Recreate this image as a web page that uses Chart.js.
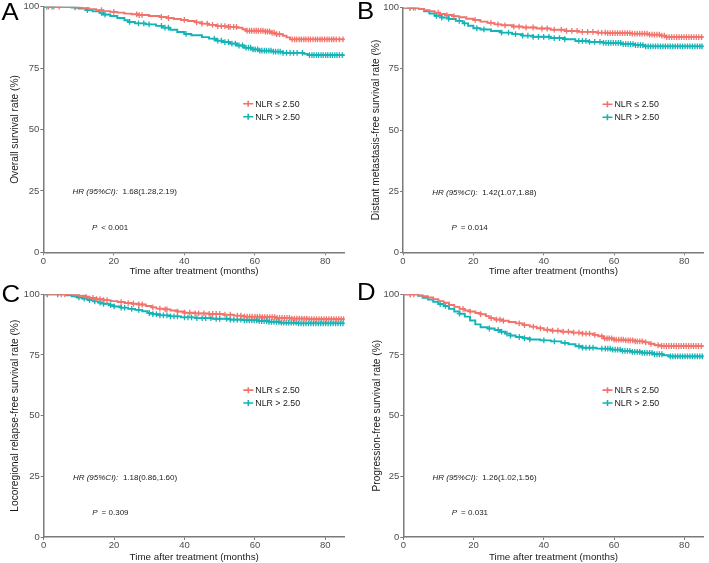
<!DOCTYPE html>
<html>
<head>
<meta charset="utf-8">
<script src="https://cdn.jsdelivr.net/npm/chart.js@4.4.1/dist/chart.umd.min.js"></script>
<style>
  html, body { margin: 0; padding: 0; background: #fff; overflow: hidden; width: 709px; height: 563px; }
  canvas { position: absolute; }
</style>
</head>
<body>
<script>
// axes
var monthTicks = [0, 20, 40, 60, 80];
var rateTicks = [0, 25, 50, 75, 100];
var groupNames = ['NLR \u2264 2.50', 'NLR > 2.50'];
var panelLetters = ['A', 'B', 'C', 'D'];
var yTitles = ['Overall survival rate (%)', 'Distant metastasis-free survival rate (%)',
  'Locoregional relapse-free survival rate (%)', 'Progression-free survival rate (%)'];
var hrValues = ['1.68(1.28,2.19)', '1.42(1.07,1.88)', '1.18(0.86,1.60)', '1.26(1.02,1.56)'];
var pValues = ['< 0.001', '= 0.014', '= 0.309', '= 0.031'];

// A - overall survival
var osLowTime = [0, 9, 11, 13, 15, 17, 19, 21, 23, 25, 27, 30, 33, 35, 37, 39, 41, 43, 45, 47, 49, 52, 55, 56.5, 57.5, 63, 64.5, 66, 68, 69, 70, 85.5];
var osLowRate = [100, 99.7, 99.4, 99, 98.6, 98.2, 97.9, 97.6, 97.2, 96.9, 96.6, 96.2, 95.8, 95.4, 95, 94.6, 94.2, 93.6, 93.1, 92.6, 92.1, 91.8, 91.4, 90.8, 90.2, 89.9, 89.4, 88.8, 88.2, 87.5, 86.7, 86.7];
var osLowCensor = [1.5, 3, 4.5, 16.5, 20, 26.5, 27.2, 28, 33.5, 35.5, 40, 43.5, 45, 46.5, 48, 49.5, 50.5, 51.5, 52.5, 53, 54, 54.8, 57.8, 58.5, 59.1, 59.8, 60.4, 61, 61.7, 62.3, 63, 63.6, 64.2, 64.9, 65.5, 66.2, 67, 70.6, 71.3, 71.9, 72.6, 73.2, 73.9, 74.5, 75.2, 75.8, 76.5, 77.2, 77.8, 78.5, 79.1, 79.8, 80.5, 81.1, 81.8, 82.4, 83.1, 84, 85];
var osHighTime = [0, 8, 10, 12, 14, 16, 17, 19, 21, 23, 24, 26, 29, 32, 34, 36, 38, 40, 42, 45, 47, 49, 51, 53, 55, 57, 59, 61, 65, 68, 74, 75, 85.5];
var osHighRate = [100, 99.7, 99.2, 98.6, 98.1, 97.5, 96.8, 96.2, 95.4, 94.5, 93.8, 93.2, 92.8, 92.2, 91.5, 90.6, 89.7, 88.9, 88.4, 87.6, 87, 86.2, 85.6, 85, 84.2, 83.3, 82.6, 82.1, 81.7, 81.2, 80.8, 80.3, 80.3];
var osHighCensor = [1, 2.5, 9, 12.5, 16.5, 17.5, 24.5, 27, 28.5, 30, 33.5, 34.5, 35.5, 40.5, 48.5, 49.5, 50.5, 51.5, 52.5, 53.5, 54.5, 55.5, 56.5, 57.5, 58.2, 58.8, 59.5, 60.1, 60.8, 61.4, 62, 62.7, 63.3, 64, 64.6, 65.3, 65.9, 66.6, 67.2, 68, 69, 70, 71, 72, 73.5, 75.5, 76.2, 76.8, 77.5, 78.1, 78.8, 79.4, 80.1, 80.7, 81.4, 82, 82.7, 83.3, 84, 84.8];

// B - distant metastasis-free survival
var dmLowTime = [0, 4.5, 6, 7.5, 9, 10.5, 12, 14, 16, 18, 20, 22, 24, 26, 28, 31, 34, 38, 42, 46, 50, 55, 58, 65, 70, 73, 74.5, 85.5];
var dmLowRate = [100, 99.6, 99, 98.6, 98, 97.4, 97, 96.5, 96.1, 95.5, 95, 94.3, 93.8, 93.2, 92.8, 92.3, 91.9, 91.5, 91, 90.5, 90.1, 89.8, 89.6, 89.4, 89, 88.6, 88, 88];
var dmLowCensor = [2, 3.5, 10, 12.5, 14.5, 20.5, 25, 27, 29, 31.5, 33, 35, 37, 39.5, 41, 43, 45, 46.5, 48, 49.5, 51, 52.5, 54, 55.5, 56.5, 57.5, 58.2, 58.9, 59.6, 60.3, 61, 61.7, 62.4, 63.1, 63.8, 64.5, 65.2, 65.9, 66.6, 67.3, 68, 68.7, 69.4, 70.1, 70.8, 71.5, 72.2, 72.9, 73.6, 74.3, 75, 75.7, 76.4, 77.1, 77.8, 78.5, 79.2, 79.9, 80.6, 81.3, 82, 82.7, 83.4, 84.1, 84.9];
var dmHighTime = [0, 4.5, 6, 7.5, 9, 11, 13, 15, 17, 18.5, 20, 22, 25, 28, 31, 34, 37, 42, 46, 49, 53, 57, 62, 66, 68.5, 85.5];
var dmHighRate = [100, 99.5, 98.5, 97.6, 96.7, 96, 95.4, 94.6, 93.6, 92.6, 91.6, 91.1, 90.5, 89.8, 89.2, 88.6, 88.1, 87.6, 87.1, 86.4, 86, 85.6, 85.1, 84.7, 84.2, 84.2];
var dmHighCensor = [2, 3, 9.5, 11, 13, 16, 17.5, 21, 23, 28, 30, 32, 34, 35.5, 37, 38.5, 40, 41.5, 43, 44.5, 46, 50, 51, 52, 53, 54.5, 56, 57, 57.7, 58.4, 59.1, 59.8, 60.5, 61.2, 61.9, 62.6, 63.3, 64, 64.7, 65.4, 66.1, 66.8, 67.5, 68.2, 69, 69.7, 70.4, 71.1, 71.8, 72.5, 73.2, 73.9, 74.6, 75.3, 76, 76.7, 77.4, 78.1, 78.8, 79.5, 80.2, 80.9, 81.6, 82.3, 83, 83.7, 84.4, 85];

// C - locoregional relapse-free survival
var lrLowTime = [0, 8.5, 10, 12, 13, 15, 17, 19, 21, 23, 25, 27, 29, 30.5, 32, 34, 36, 38, 40, 43, 47, 51, 54, 57, 62, 66, 70, 75, 85.5];
var lrLowRate = [100, 99.7, 99.4, 99, 98.5, 98, 97.6, 97.2, 96.8, 96.4, 96.1, 95.8, 95.2, 94.6, 94.1, 93.8, 93.3, 92.9, 92.4, 92.1, 91.9, 91.6, 91.2, 90.8, 90.6, 90.3, 90, 89.8, 89.8];
var lrLowCensor = [5, 6, 9, 12, 14, 15, 16, 17, 18, 22, 24, 25.5, 27, 28, 31, 33, 34.5, 35, 38, 40, 41.5, 43, 44, 45.5, 47, 48, 49, 50, 51.5, 53, 55, 56, 57, 57.8, 58.5, 59.2, 60, 60.7, 61.4, 62.1, 62.8, 63.5, 64.2, 64.9, 65.6, 66.3, 67, 67.7, 68.4, 69.1, 69.8, 70.5, 71.2, 71.9, 72.6, 73.3, 74, 74.7, 75.4, 76.1, 76.8, 77.5, 78.2, 78.9, 79.6, 80.3, 81, 81.7, 82.4, 83.1, 83.8, 84.5, 85.2];
var lrHighTime = [0, 6.5, 8, 9.5, 11, 12.5, 14, 15.5, 17, 18.5, 20, 22, 24, 26, 28, 29.5, 31, 33, 36, 39, 43, 48, 53, 57, 61, 64, 67, 72, 85.5];
var lrHighRate = [100, 99.6, 99.2, 98.7, 98.2, 97.6, 97.1, 96.6, 96.1, 95.5, 95, 94.5, 94, 93.6, 93, 92.3, 91.8, 91.3, 90.9, 90.5, 90.2, 89.9, 89.6, 89.3, 89, 88.7, 88.3, 88, 88];
var lrHighCensor = [1, 4, 10, 11.5, 13, 14.5, 16, 17, 19, 20, 22, 23, 25, 27, 30, 31, 32, 33, 34, 35, 36, 37, 38, 40, 41, 42, 43.5, 45, 46, 47.5, 49, 50, 52, 53, 54, 55, 56, 57, 57.7, 58.4, 59.1, 59.8, 60.5, 61.2, 61.9, 62.6, 63.3, 64, 64.7, 65.4, 66.1, 66.8, 67.5, 68.2, 68.9, 69.6, 70.3, 71, 71.7, 72.4, 73.1, 73.8, 74.5, 75.2, 75.9, 76.6, 77.3, 78, 78.7, 79.4, 80.1, 80.8, 81.5, 82.2, 82.9, 83.6, 84.3, 85];

// D - progression-free survival
var pfLowTime = [0, 4.2, 5.5, 7, 8.5, 10, 11.5, 13, 14.5, 16, 17.5, 19, 20.5, 22, 23.5, 24.5, 26, 28, 30, 32, 34, 36, 38, 40, 42, 45, 48, 51, 54, 55.5, 57, 60, 63, 66, 68.5, 70, 71.5, 73, 85.5];
var pfLowRate = [100, 99.6, 99.2, 98.7, 98, 97.2, 96.5, 95.6, 94.8, 94, 93.3, 92.9, 92.3, 91.8, 91, 90.2, 89.6, 89.1, 88.6, 88, 87.3, 86.7, 86, 85.4, 85, 84.6, 84.2, 83.8, 83.3, 82.7, 81.8, 81.3, 81, 80.6, 80.2, 79.6, 79, 78.7, 78.7];
var pfLowCensor = [2, 3, 17, 19, 22, 25, 26.5, 27.5, 28.5, 33, 34.5, 37, 39, 41, 42.5, 44, 45.5, 47, 48.5, 50, 51, 52, 53, 54.5, 56.5, 57.3, 58, 58.6, 59.3, 60, 60.6, 61.3, 62, 62.6, 63.3, 64, 64.6, 65.3, 66, 66.6, 67.3, 68, 69, 70.5, 72.5, 73.5, 74.2, 74.9, 75.6, 76.3, 77, 77.7, 78.4, 79.1, 79.8, 80.5, 81.2, 81.9, 82.6, 83.3, 84, 84.8];
var pfHighTime = [0, 4.2, 5.5, 7, 8.5, 10, 11.5, 13, 14.5, 16, 17.5, 19, 20.5, 22, 24, 26, 27.5, 29, 30.5, 32, 34, 36, 39, 42, 45, 47, 49, 51, 55, 59, 62, 65, 68, 71, 74, 75.5, 85.5];
var pfHighRate = [100, 99.4, 98.6, 97.8, 96.9, 96, 95.2, 94, 92.9, 92, 90.8, 89.2, 87.6, 86.4, 85.9, 85.3, 84.6, 83.8, 83, 82.4, 81.9, 81.4, 81, 80.6, 80, 79.4, 78.6, 78, 77.6, 77.2, 76.7, 76.3, 75.9, 75.3, 74.9, 74.4, 74.4];
var pfHighCensor = [2, 10.5, 12, 16, 24.5, 27, 28, 29.5, 30.5, 33, 34.5, 36, 40, 43, 46, 50, 51, 52, 53, 54, 56.5, 57.5, 58.2, 58.9, 59.6, 60.3, 61, 61.7, 62.4, 63.1, 63.8, 64.5, 65.2, 65.9, 66.6, 67.3, 68, 68.7, 69.4, 70.1, 70.8, 71.5, 72.2, 72.9, 73.6, 76, 76.7, 77.4, 78.1, 78.8, 79.5, 80.2, 80.9, 81.6, 82.3, 83, 83.7, 84.4, 85.1];

var curveData = [
  [[osLowTime, osLowRate, osLowCensor], [osHighTime, osHighRate, osHighCensor]],
  [[dmLowTime, dmLowRate, dmLowCensor], [dmHighTime, dmHighRate, dmHighCensor]],
  [[lrLowTime, lrLowRate, lrLowCensor], [lrHighTime, lrHighRate, lrHighCensor]],
  [[pfLowTime, pfLowRate, pfLowCensor], [pfHighTime, pfHighRate, pfHighCensor]]
];

var colors = ['#F2736B', '#14B3B6'];
var fontFam = '"Liberation Sans", Arial, Helvetica, sans-serif';

// page layout: plot box [left, top, right, bottom], y title x, x title y, letter pos
var layout = [
  { plot: [43.3, 6.7, 347.7, 252.3], yTitleX: 15, xTitleY: 271.7, letter: [1.5, 19.5] },
  { plot: [403, 7.7, 707.3, 252.3], yTitleX: 375.7, xTitleY: 271.7, letter: [357, 18.5] },
  { plot: [43.7, 294.3, 347.7, 537], yTitleX: 15, xTitleY: 557, letter: [1.5, 301.5] },
  { plot: [403.3, 294.3, 707.3, 537], yTitleX: 377.5, xTitleY: 557, letter: [357, 300] }
];

Chart.defaults.font.family = fontFam;
Chart.defaults.animation = false;

function stepAt(times, rates, t) {
  var v = rates[0];
  for (var i = 0; i < times.length; i++) {
    if (times[i] <= t) v = rates[i];
  }
  return v;
}

function drawPanel(k) {
  var L = layout[k];
  var pl = L.plot[0], pt = L.plot[1], pr = L.plot[2], pb = L.plot[3];
  var cx = Math.floor(pl - 50), cy = Math.floor(pt - 14);
  var cw = Math.ceil(pr - cx + 1.5), ch = Math.ceil(pb + 30 - cy);
  var yW = pl - cx, padTop = pt - cy, padRight = cx + cw - pr, xH = cy + ch - pb;

  var cv = document.createElement('canvas');
  cv.width = cw; cv.height = ch;
  cv.style.left = cx + 'px'; cv.style.top = cy + 'px';
  cv.style.width = cw + 'px'; cv.style.height = ch + 'px';
  document.body.appendChild(cv);

  var datasets = [];
  for (var g = 0; g < 2; g++) {
    var d = curveData[k][g];
    datasets.push({
      label: groupNames[g],
      data: d[0].map(function (t, i) { return { x: t, y: d[1][i] }; }),
      borderColor: colors[g], borderWidth: 1.9, stepped: 'before',
      pointRadius: 0, fill: false
    });
    datasets.push({
      label: groupNames[g] + ' censored',
      data: d[2].map(function (t) { return { x: t, y: stepAt(d[0], d[1], t) }; }),
      showLine: false, pointStyle: 'cross', pointRadius: 2.9,
      pointBorderColor: colors[g], pointBorderWidth: 1.3, borderColor: colors[g]
    });
  }

  var textPlugin = {
    id: 'kmText',
    afterDraw: function (chart) {
      var ctx = chart.ctx, xs = chart.scales.x, ys = chart.scales.y;
      ctx.save();
      // panel letter
      ctx.fillStyle = '#000';
      ctx.textBaseline = 'alphabetic';
      ctx.textAlign = 'left';
      ctx.font = '23px ' + fontFam;
      ctx.save();
      ctx.translate(L.letter[0] - cx, L.letter[1] - cy);
      ctx.scale(1.12, 1);
      ctx.fillText(panelLetters[k], 0, 0);
      ctx.restore();

      // legend
      var lx = xs.getPixelForValue(56.7);
      var rows = [60.5, 55.2];
      ctx.textBaseline = 'middle';
      for (var g = 0; g < 2; g++) {
        var ly = ys.getPixelForValue(rows[g]);
        ctx.strokeStyle = colors[g];
        ctx.lineWidth = 1.6;
        ctx.beginPath();
        ctx.moveTo(lx, ly); ctx.lineTo(lx + 10, ly);
        ctx.moveTo(lx + 5, ly - 3); ctx.lineTo(lx + 5, ly + 3);
        ctx.stroke();
        ctx.fillStyle = '#1a1a1a';
        ctx.font = '8.8px ' + fontFam;
        ctx.fillText(groupNames[g], lx + 12, ly + 0.5);
      }

      // HR and P
      var hy = ys.getPixelForValue(24.5);
      ctx.fillStyle = '#1a1a1a';
      ctx.font = 'italic 8px ' + fontFam;
      ctx.fillText('HR (95%CI):', xs.getPixelForValue(8.3), hy);
      ctx.font = '8px ' + fontFam;
      ctx.fillText(hrValues[k], xs.getPixelForValue(22.5), hy);

      var py = ys.getPixelForValue(10);
      var px = xs.getPixelForValue(13.8);
      ctx.font = 'italic 8px ' + fontFam;
      ctx.fillText('P', px, py);
      var w = ctx.measureText('P').width;
      ctx.font = '8px ' + fontFam;
      ctx.fillText(pValues[k], px + w + 4, py);
      ctx.restore();
    }
  };

  new Chart(cv, {
    type: 'line',
    data: { datasets: datasets },
    options: {
      responsive: false,
      animation: false,
      layout: { padding: { top: padTop, right: padRight, left: 0, bottom: 0 } },
      plugins: { legend: { display: false }, tooltip: { enabled: false } },
      scales: {
        x: {
          type: 'linear', min: 0, max: 85.5,
          afterBuildTicks: function (s) { s.ticks = monthTicks.map(function (v) { return { value: v }; }); },
          afterFit: function (s) { s.height = xH; },
          border: { color: '#7a7a7a', width: 1.5 },
          grid: { drawOnChartArea: false, tickLength: 3, color: '#7a7a7a' },
          ticks: { font: { size: 9.5 }, color: '#4d4d4d', padding: 0, maxRotation: 0 },
          title: {
            display: true, text: 'Time after treatment (months)',
            font: { size: 9.8 }, color: '#1a1a1a',
            padding: { top: 0, bottom: Math.max(0, cy + ch - L.xTitleY - 5.9) }
          }
        },
        y: {
          type: 'linear', min: 0, max: 100,
          afterBuildTicks: function (s) { s.ticks = rateTicks.map(function (v) { return { value: v }; }); },
          afterFit: function (s) { s.width = yW; },
          border: { color: '#7a7a7a', width: 1.5 },
          grid: { drawOnChartArea: false, tickLength: 3, color: '#7a7a7a' },
          ticks: { font: { size: 9.5 }, color: '#4d4d4d', padding: 1 },
          title: {
            display: true, text: yTitles[k],
            font: { size: 10.2 }, color: '#1a1a1a',
            padding: { top: Math.max(0, L.yTitleX - cx - 6.1), bottom: 0 }
          }
        }
      }
    },
    plugins: [textPlugin]
  });
}

for (var k = 0; k < 4; k++) drawPanel(k);
</script>
</body>
</html>
